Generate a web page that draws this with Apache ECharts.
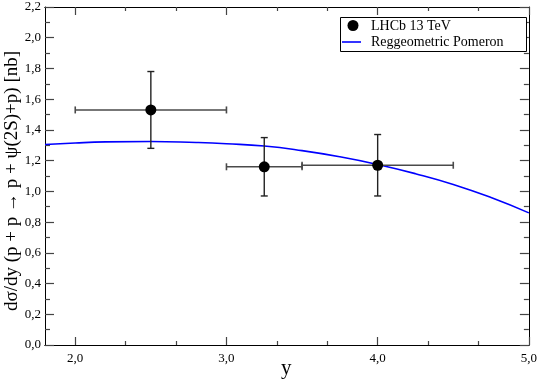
<!DOCTYPE html>
<html>
<head>
<meta charset="utf-8">
<script src="https://cdn.jsdelivr.net/npm/echarts@6/dist/echarts.min.js"></script>
<style>
  html, body { margin: 0; padding: 0; background: #fff; }
  #chart { width: 540px; height: 381px; }
</style>
</head>
<body>
<div id="chart"></div>
<script>
// LHCb 13 TeV measured points: y, dsigma/dy, x-range, y-range
var dataX = [2.5, 3.25, 4.0];
var dataY = [1.53, 1.16, 1.17];
var xLow = [2.0, 3.0, 3.5];
var xHigh = [3.0, 3.5, 4.5];
var yLow = [1.28, 0.97, 0.97];
var yHigh = [1.78, 1.35, 1.37];

// Reggeometric Pomeron curve
var curveX = [1.8, 2.0, 2.2, 2.5, 2.8, 3.0, 3.25, 3.5, 3.75, 4.0, 4.25, 4.5, 4.75, 5.0];
var curveY = [1.305, 1.315, 1.322, 1.325, 1.318, 1.31, 1.295, 1.265, 1.225, 1.175, 1.115, 1.045, 0.96, 0.86];

var xMajor = [2.0, 3.0, 4.0, 5.0];
var xMinor = [2.3333, 2.6667, 3.3333, 3.6667, 4.3333, 4.6667];

var legendNames = ['LHCb 13 TeV', 'Reggeometric Pomeron'];

var serif = 'Liberation Serif, DejaVu Serif, serif';
var tickCol = '#444';

function comma(v) {
    return v.toFixed(1).replace('.', ',');
}

var points = [];
var bars = [];
for (var i = 0; i < dataX.length; i++) {
    points.push([dataX[i], dataY[i]]);
    bars.push([dataX[i], dataY[i], xLow[i], xHigh[i], yLow[i], yHigh[i]]);
}
var curve = [];
for (var j = 0; j < curveX.length; j++) {
    curve.push([curveX[j], curveY[j]]);
}

function xAxisOf(pos, values, len, labels) {
    return {
        type: 'value',
        position: pos,
        min: 1.8,
        max: 5.0,
        axisLine: { show: true, onZero: false, lineStyle: { color: '#000', width: 1 } },
        axisTick: { show: true, inside: true, length: len, customValues: values,
                    lineStyle: { color: tickCol, width: 1.2 } },
        axisLabel: { show: labels, customValues: values, color: '#000', fontFamily: serif,
                     fontSize: 13, margin: 7, formatter: comma },
        splitLine: { show: false }
    };
}

function yAxisOf(pos, labels) {
    return {
        type: 'value',
        position: pos,
        min: 0,
        max: 2.2,
        interval: 0.2,
        axisLine: { show: true, onZero: false, lineStyle: { color: '#000', width: 1 } },
        axisTick: { show: true, inside: true, length: 9, lineStyle: { color: tickCol, width: 1.2 } },
        minorTick: { show: true, splitNumber: 2, length: 5, lineStyle: { color: tickCol, width: 1.2 } },
        axisLabel: { show: labels, color: '#000', fontFamily: serif, fontSize: 13, margin: 4,
                     formatter: comma },
        splitLine: { show: false }
    };
}

var chart = echarts.init(document.getElementById('chart'));

var option = {
    animation: false,
    backgroundColor: '#fff',
    grid: { left: 45, right: 10, top: 7, bottom: 36 },
    xAxis: [
        xAxisOf('bottom', xMajor, 8, true),
        xAxisOf('bottom', xMinor, 4, false),
        xAxisOf('top', xMajor, 8, false),
        xAxisOf('top', xMinor, 4, false)
    ],
    yAxis: [
        yAxisOf('left', true),
        yAxisOf('right', false)
    ],
    graphic: [
        {
            type: 'text',
            left: 281,
            top: 358,
            style: { text: 'y', font: '21px ' + serif, fill: '#000' }
        },
        {
            type: 'text',
            x: 3,
            y: 181,
            rotation: Math.PI / 2,
            style: {
                text: 'dσ/dy (p + p \u2192 p + ψ(2S)+p) [nb]',
                font: '19px ' + serif,
                fill: '#000',
                align: 'center',
                verticalAlign: 'top'
            }
        },
        // legend box
        {
            type: 'rect',
            shape: { x: 340.5, y: 17.5, width: 186, height: 34 },
            style: { fill: '#fff', stroke: '#000', lineWidth: 1 },
            z: 10
        },
        {
            type: 'circle',
            shape: { cx: 353, cy: 25.5, r: 5.5 },
            style: { fill: '#000' },
            z: 11
        },
        {
            type: 'line',
            shape: { x1: 342, y1: 42, x2: 361, y2: 42 },
            style: { stroke: '#0000ff', lineWidth: 1.6 },
            z: 11
        },
        {
            type: 'text',
            x: 371,
            y: 26,
            style: { text: legendNames[0], font: '14px ' + serif, fill: '#000', verticalAlign: 'middle' },
            z: 11
        },
        {
            type: 'text',
            x: 371,
            y: 42,
            style: { text: legendNames[1], font: '14px ' + serif, fill: '#000', verticalAlign: 'middle' },
            z: 11
        }
    ],
    series: [
        {
            name: legendNames[1],
            type: 'line',
            xAxisIndex: 0,
            yAxisIndex: 0,
            smooth: true,
            symbol: 'none',
            lineStyle: { color: '#0000ff', width: 1.6 },
            itemStyle: { color: '#0000ff' },
            data: curve,
            z: 3
        },
        {
            name: 'errors',
            type: 'custom',
            xAxisIndex: 0,
            yAxisIndex: 0,
            data: bars,
            z: 4,
            renderItem: function(params, api) {
                var c = api.coord([api.value(0), api.value(1)]);
                var xl = api.coord([api.value(2), api.value(1)]);
                var xh = api.coord([api.value(3), api.value(1)]);
                var yl = api.coord([api.value(0), api.value(4)]);
                var yh = api.coord([api.value(0), api.value(5)]);
                var cap = 3.5;
                var hs = { stroke: '#4a4a4a', lineWidth: 1.6 };
                var vs = { stroke: '#222', lineWidth: 1.4 };
                return {
                    type: 'group',
                    children: [
                        { type: 'line', shape: { x1: xl[0], y1: c[1], x2: xh[0], y2: c[1] }, style: hs },
                        { type: 'line', shape: { x1: xl[0], y1: c[1] - cap, x2: xl[0], y2: c[1] + cap }, style: hs },
                        { type: 'line', shape: { x1: xh[0], y1: c[1] - cap, x2: xh[0], y2: c[1] + cap }, style: hs },
                        { type: 'line', shape: { x1: c[0], y1: yl[1], x2: c[0], y2: yh[1] }, style: vs },
                        { type: 'line', shape: { x1: c[0] - cap, y1: yl[1], x2: c[0] + cap, y2: yl[1] }, style: vs },
                        { type: 'line', shape: { x1: c[0] - cap, y1: yh[1], x2: c[0] + cap, y2: yh[1] }, style: vs }
                    ]
                };
            }
        },
        {
            name: legendNames[0],
            type: 'scatter',
            xAxisIndex: 0,
            yAxisIndex: 0,
            symbol: 'circle',
            symbolSize: 11,
            itemStyle: { color: '#000', opacity: 1 },
            data: points,
            z: 5
        }
    ]
};

chart.setOption(option);
</script>
</body>
</html>
